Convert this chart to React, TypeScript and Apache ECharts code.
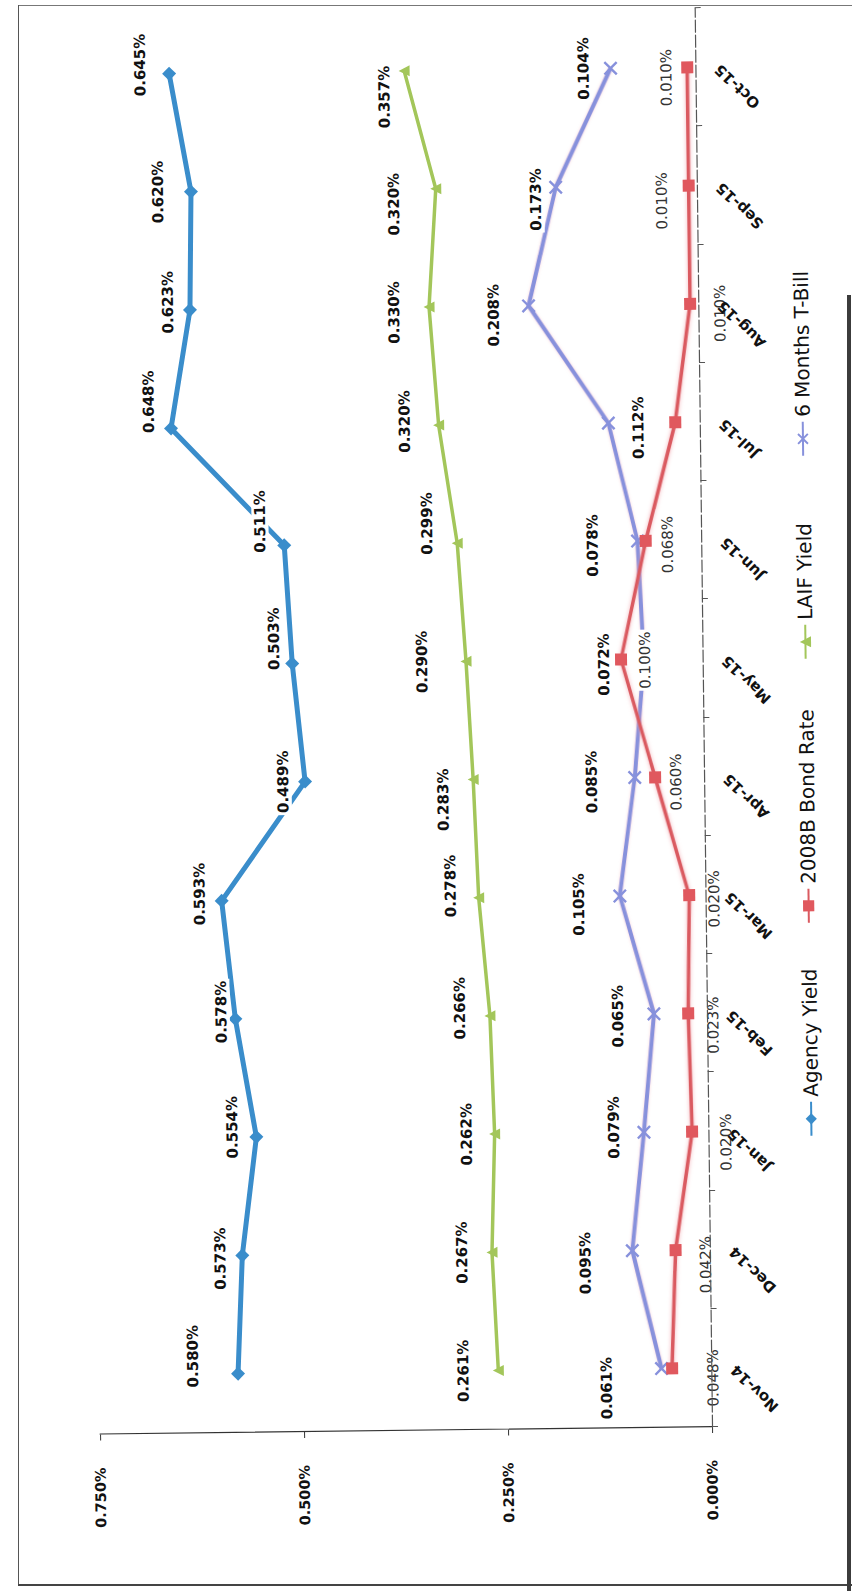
import React, { useEffect, useRef } from "react";
import * as echarts from "echarts";

// Month categories and yields (in percent)
const months = ["Nov-14", "Dec-14", "Jan-15", "Feb-15", "Mar-15", "Apr-15", "May-15", "Jun-15", "Jul-15", "Aug-15", "Sep-15", "Oct-15"];
const agencyYield = [0.58, 0.573, 0.554, 0.578, 0.593, 0.489, 0.503, 0.511, 0.648, 0.623, 0.62, 0.645];
const bondRate2008B = [0.048, 0.042, 0.02, 0.023, 0.02, 0.06, 0.1, 0.068, 0.03, 0.01, 0.01, 0.01];
const laifYield = [0.261, 0.267, 0.262, 0.266, 0.278, 0.283, 0.29, 0.299, 0.32, 0.33, 0.32, 0.357];
const tBill6M = [0.061, 0.095, 0.079, 0.065, 0.105, 0.085, 0.072, 0.078, 0.112, 0.208, 0.173, 0.104];
const valueMin = 0;
const valueMax = 0.75;
const valueStep = 0.25;

const seriesNames = ["Agency Yield", "2008B Bond Rate", "LAIF Yield", "6 Months T-Bill"];

// Label placement per point, given as [across, along] shifts on the turned page:
// across = sideways (negative = towards larger values), along = down the page.
const agencyLabelShift = [[-45, -18], [-22, 3], [-24, -10], [-14, -7], [-22, -7], [-22, 0], [-18, -25], [-24, -24], [-22, -27], [-22, -8], [-33, 0], [-29, -9]];
const bondLabelShift = [[41, 10], [30, 15], [34, 11], [25, 12], [25, 4], [21, 5], [24, 1], [22, 4], [0, 0], [30, 10], [-27, 15], [-21, 10]];
const laifLabelShift = [[-35, 0], [-30, 0], [-28, 0], [-30, -8], [-28, -12], [-30, 20], [-44, 0], [-30, -20], [-34, -4], [-35, 5], [-42, 15], [-20, 26]];
const tBillLabelShift = [[-55, 19], [-47, 12], [-30, -5], [-36, 2], [-41, 8], [-43, 4], [-40, 5], [-45, 4], [30, 5], [-35, 9], [-20, 12], [-27, 0]];
const bondHiddenLabels = [8];

// Legend entry start positions along the landscape width
const legendStarts = [448, 661, 925, 1128];

// The chart is laid out landscape and then turned a quarter turn counter-clockwise,
// with the printed sheet sitting slightly askew.
const PAGE_W = 852;
const PAGE_H = 1591;
const CHART_W = PAGE_H;
const CHART_H = PAGE_W;
const SKEW_DEG = -0.7;

const FONT = "DejaVu Sans";

const pct = (v: number) => v.toFixed(3) + "%";

function buildData(values: number[], shifts: number[][], hidden: number[] = []) {
  return values.map((v, i) => ({
    value: v,
    label: {
      show: hidden.indexOf(i) < 0,
      offset: [-shifts[i][1], shifts[i][0]],
    },
  }));
}

const xMark = "path://M0,1.2 L1.2,0 L5,3.8 L8.8,0 L10,1.2 L6.2,5 L10,8.8 L8.8,10 L5,6.2 L1.2,10 L0,8.8 L3.8,5 Z";

export default function App() {
  const ref = useRef<HTMLDivElement>(null);

  useEffect(() => {
    document.body.style.margin = "0";
    if (!ref.current) return;
    const chart = echarts.init(ref.current, null, { renderer: "svg", width: CHART_W, height: CHART_H });

    const labelBase = {
      show: true,
      position: "inside",
      formatter: (p: any) => pct(p.value),
      fontFamily: FONT,
      fontSize: 15,
      fontWeight: "bold",
      color: "#111",
      backgroundColor: "#ffffff",
      padding: [1, 2],
    };

    const legends = seriesNames.map((name, i) => ({
      data: [name],
      left: legendStarts[i],
      top: 800,
      itemWidth: 34,
      itemHeight: 14,
      itemGap: 6,
      textStyle: { fontFamily: FONT, fontSize: 20, color: "#111" },
    }));

    chart.setOption({
      animation: false,
      grid: { left: 164, right: 8, top: 100, bottom: 140 },
      legend: legends,
      xAxis: {
        type: "category",
        data: months,
        boundaryGap: true,
        z: 10,
        axisLine: { show: true, lineStyle: { color: "#555", width: 1.2, type: [12, 3] } },
        axisTick: { show: true, length: 6, lineStyle: { color: "#555" } },
        axisLabel: {
          rotate: 45,
          margin: 22,
          fontFamily: FONT,
          fontSize: 15,
          fontWeight: "bold",
          color: "#111",
        },
      },
      yAxis: {
        type: "value",
        min: valueMin,
        max: valueMax,
        interval: valueStep,
        splitLine: { show: false },
        axisLine: { show: true, lineStyle: { color: "#333", width: 1.2 } },
        axisTick: { show: true, length: 6, lineStyle: { color: "#333" } },
        axisLabel: {
          formatter: (v: number) => pct(v),
          margin: 33,
          fontFamily: FONT,
          fontSize: 14.5,
          fontWeight: "bold",
          color: "#111",
        },
      },
      series: [
        {
          name: seriesNames[0],
          type: "line",
          data: buildData(agencyYield, agencyLabelShift),
          symbol: "diamond",
          symbolSize: 14,
          lineStyle: { color: "#3A8DCB", width: 5 },
          itemStyle: { color: "#3A8DCB" },
          label: labelBase,
          z: 5,
        },
        {
          name: seriesNames[1],
          type: "line",
          data: buildData(bondRate2008B, bondLabelShift, bondHiddenLabels),
          symbol: "rect",
          symbolSize: 12,
          lineStyle: { color: "#DA5A60", width: 3.5, shadowColor: "rgba(240,150,160,0.7)", shadowBlur: 4 },
          itemStyle: { color: "#E0585E" },
          label: { ...labelBase, fontWeight: "normal", color: "#333" },
          z: 5,
        },
        {
          name: seriesNames[2],
          type: "line",
          data: buildData(laifYield, laifLabelShift),
          symbol: "triangle",
          symbolSize: 11,
          lineStyle: { color: "#A3C65A", width: 3.5 },
          itemStyle: { color: "#A3C65A" },
          label: labelBase,
          z: 4,
        },
        {
          name: seriesNames[3],
          type: "line",
          data: buildData(tBill6M, tBillLabelShift),
          symbol: xMark,
          symbolSize: 14,
          lineStyle: { color: "#8791DC", width: 4, shadowColor: "rgba(240,170,180,0.5)", shadowBlur: 3 },
          itemStyle: { color: "#8791DC" },
          label: labelBase,
          z: 4,
        },
      ],
    });

    return () => chart.dispose();
  }, []);

  const edge = (style: React.CSSProperties) => <div style={{ position: "absolute", ...style }} />;

  return (
    <div style={{ position: "relative", width: PAGE_W, height: PAGE_H, overflow: "hidden", background: "#fff" }}>
      <div
        style={{
          position: "absolute",
          left: 0,
          top: 0,
          width: PAGE_W,
          height: PAGE_H,
          transformOrigin: "715px 1425px",
          transform: `rotate(${SKEW_DEG}deg)`,
        }}
      >
        <div
          style={{
            position: "absolute",
            left: 0,
            top: 0,
            width: CHART_W,
            height: CHART_H,
            transformOrigin: "0 0",
            transform: `translate(0px, ${PAGE_H}px) rotate(-90deg)`,
          }}
        >
          <div ref={ref} style={{ width: CHART_W, height: CHART_H }} />
        </div>
      </div>
      {/* chart frame and sheet edge */}
      {edge({ left: 18, top: 5, width: 834, height: 1, background: "#777" })}
      {edge({ left: 18, top: 5, width: 1.3, height: 1580, background: "#555" })}
      {edge({ left: 18, top: 1584, width: 834, height: 1.5, background: "#444" })}
      {edge({ left: 847, top: 295, width: 4, height: 1296, background: "#3c3c3c" })}
    </div>
  );
}
